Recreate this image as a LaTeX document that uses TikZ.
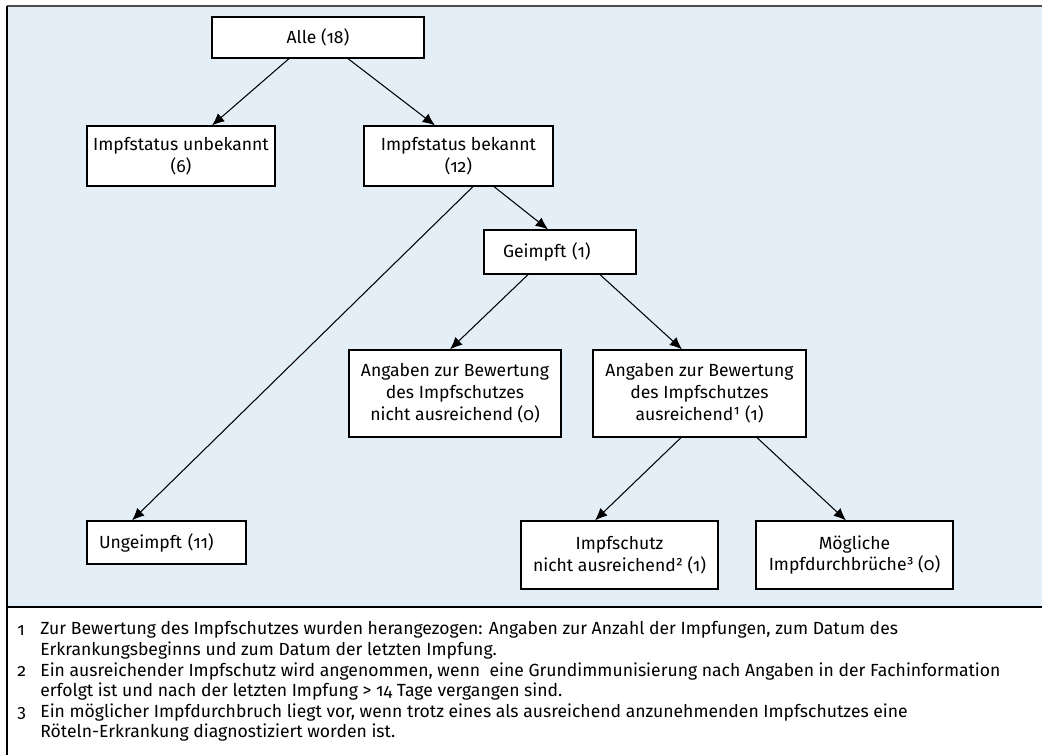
\documentclass[tikz,border=0pt]{standalone}
\usepackage{fontspec}
\setmainfont{Fira Sans}[Numbers=OldStyle]
\usepackage{tikz}
\usetikzlibrary{arrows.meta}
\definecolor{panel}{HTML}{E4EEF7}
\definecolor{frame}{HTML}{4D4D4D}

\begin{document}
\begin{tikzpicture}[
  x=0.02cm, y=-0.02cm,
  font=\fontsize{10}{12.5}\selectfont,
  box/.style={draw=black, fill=white, line width=0.7pt, align=center, inner sep=0pt},
  arr/.style={-{Latex[length=7pt,width=6pt]}, line width=0.6pt},
  fnum/.style={anchor=base west, inner sep=0pt},
  % top of first line sits 8pt above its baseline
  fnote/.style={anchor=north west, align=left, inner sep=0pt, font=\fontsize{10}{11.7}\selectfont,
    execute at begin node={\rule{0pt}{8pt}}}
]
  \useasboundingbox (0,0) rectangle (1042,755);

  % Panel and frame
  \fill[panel] (7,6) rectangle (1042,607);
  \draw[frame, line width=1.2pt] (7,6) -- (1042,6);
  \draw[line width=0.8pt] (7,6) -- (7,755);
  \draw[line width=0.8pt] (7,607) -- (1042,607);

  % LEVEL 1-2: all cases, vaccination status
  \node[box, minimum width=4.24cm, minimum height=0.82cm] (alle) at (318, 37.5) {Alle (18)};
  \node[box, minimum width=3.76cm, minimum height=1.2cm] (unbek) at (181, 156) {Impfstatus unbekannt\\(6)};
  \node[box, minimum width=3.78cm, minimum height=1.2cm] (bek) at (458.5, 156) {Impfstatus bekannt\\(12)};

  \draw[arr] ([xshift=-0.58cm]alle.south) -- ([xshift=0.62cm]unbek.north);
  \draw[arr] ([xshift=0.6cm]alle.south) -- ([xshift=-0.47cm]bek.north);

  % LEVEL 3: vaccinated / unvaccinated
  \node[box, minimum width=3.04cm, minimum height=0.88cm, text width=2.28cm, align=left] (geimpft) at (560, 252) {Geimpft (1)};
  \node[box, minimum width=3.18cm, minimum height=0.86cm, text width=2.7cm, align=left] (ungeimpft) at (166.5, 542.5) {Ungeimpft (11)};

  \draw[arr] ([xshift=0.71cm]bek.south) -- ([xshift=-0.24cm]geimpft.north);
  \draw[arr] ([xshift=0.29cm]bek.south) -- ([xshift=-0.69cm]ungeimpft.north);

  % LEVEL 4: enough data to rate protection?
  \node[box, minimum width=4.24cm, minimum height=1.74cm] (nichtaus) at (455, 393.5) {Angaben zur Bewertung\\des Impfschutzes\\nicht ausreichend (0)};
  \node[box, minimum width=4.26cm, minimum height=1.74cm] (aus) at (699.5, 393.5) {Angaben zur Bewertung\\des Impfschutzes\\ausreichend¹ (1)};

  \draw[arr] ([xshift=-0.64cm]geimpft.south) -- ([xshift=-0.1cm]nichtaus.north);
  \draw[arr] ([xshift=0.8cm]geimpft.south) -- ([xshift=-0.35cm]aus.north);

  % LEVEL 5: protection and breakthroughs
  \node[box, minimum width=3.94cm, minimum height=1.36cm] (schutz) at (619.5, 555) {Impfschutz\\nicht ausreichend² (1)};
  \node[box, minimum width=3.94cm, minimum height=1.36cm] (moegl) at (854.5, 555) {Mögliche\\Impfdurchbrüche³ (0)};

  \draw[arr] ([xshift=-0.37cm]aus.south) -- ([xshift=-0.49cm]schutz.north);
  \draw[arr] ([xshift=1.15cm]aus.south) -- ([xshift=-0.17cm]moegl.north);

  % Footnotes (baselines at 635, 676, 717)
  \node[fnum] (n1) at (17, 635) {1};
  \node[fnote] (f1) at (40, 621) {Zur Bewertung des Impfschutzes wurden herangezogen: Angaben zur Anzahl der Impfungen, zum Datum des\\Erkrankungsbeginns und zum Datum der letzten Impfung.};
  \node[fnum] (n2) at (17, 676) {2};
  \node[fnote] (f2) at (40, 662) {Ein ausreichender Impfschutz wird angenommen, wenn\ \ eine Grundimmunisierung nach Angaben in der Fachinformation\\erfolgt ist und nach der letzten Impfung > 14 Tage vergangen sind.};
  \node[fnum] (n3) at (17, 717) {3};
  \node[fnote] (f3) at (40, 703) {Ein möglicher Impfdurchbruch liegt vor, wenn trotz eines als ausreichend anzunehmenden Impfschutzes eine\\Röteln-Erkrankung diagnostiziert worden ist.};

\end{tikzpicture}
\end{document}
